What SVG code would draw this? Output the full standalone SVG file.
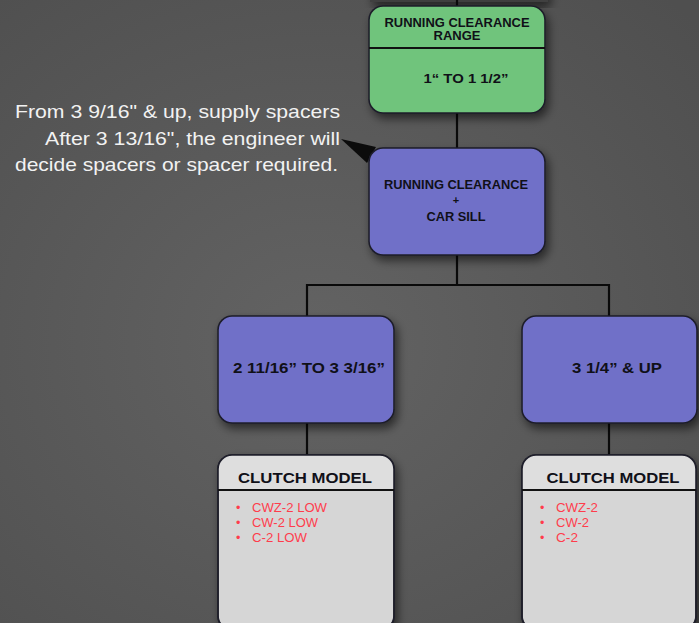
<svg xmlns="http://www.w3.org/2000/svg" width="699" height="623" viewBox="0 0 699 623">
<defs>
<radialGradient id="bg" cx="0.45" cy="0.55" r="0.75">
<stop offset="0" stop-color="#636363"/>
<stop offset="1" stop-color="#4f4f4f"/>
</radialGradient>
<filter id="sh" x="-20%" y="-20%" width="150%" height="160%">
<feDropShadow dx="3" dy="5" stdDeviation="5" flood-color="#000" flood-opacity="0.55"/>
</filter>
<style>
.box{stroke:#1e1e2a;stroke-width:1.6;filter:url(#sh)}
.green{fill:#70c47c}
.blue{fill:#6f6fc8}
.grey{fill:#d6d6d6}
.t{font-family:"Liberation Sans",Arial,sans-serif;font-weight:bold;fill:#101018;text-anchor:middle}
.note{font-family:"Liberation Sans",Arial,sans-serif;font-size:19px;fill:#f2f2f2;text-anchor:end}
.red{font-family:"Liberation Sans",Arial,sans-serif;font-size:12.5px;fill:#ff3c4c}
.line{stroke:#0a0a0a;stroke-width:2.2;fill:none}
</style>
</defs>
<rect width="699" height="623" fill="url(#bg)"/>
<rect x="370" y="-12" width="178" height="14" fill="#404040" filter="url(#sh)"/>
<g id="connectors">
<line class="line" x1="457" y1="0" x2="457" y2="8"/>
<line class="line" x1="457" y1="113" x2="457" y2="148"/>
<polyline class="line" points="457,255 457,285"/>
<polyline class="line" points="307,316 307,285 609,285 609,316"/>
<line class="line" x1="307" y1="423" x2="307" y2="456"/>
<line class="line" x1="609" y1="423" x2="609" y2="456"/>
<polygon points="341,139 376,147 367,163" fill="#0c0c0c"/>
</g>
<g id="note">
<text class="note" x="340" y="118" textLength="325" lengthAdjust="spacingAndGlyphs">From 3 9/16" &amp; up, supply spacers</text>
<text class="note" x="340" y="145" textLength="295" lengthAdjust="spacingAndGlyphs">After 3 13/16", the engineer will</text>
<text class="note" x="338" y="171" textLength="323" lengthAdjust="spacingAndGlyphs">decide spacers or spacer required.</text>
</g>
<g id="range">
<rect class="box green" x="369" y="6" width="176" height="107" rx="14"/>
<line x1="369" y1="48" x2="545" y2="48" stroke="#111" stroke-width="1.8"/>
<text class="t" x="457" y="27" font-size="12" textLength="145" lengthAdjust="spacingAndGlyphs">RUNNING CLEARANCE</text>
<text class="t" x="457" y="40" font-size="12" textLength="47" lengthAdjust="spacingAndGlyphs">RANGE</text>
<text class="t" x="466" y="83" font-size="12.5" textLength="85" lengthAdjust="spacingAndGlyphs">1“ TO 1 1/2”</text>
</g>
<g id="sill">
<rect class="box blue" x="369" y="148" width="176" height="107" rx="14"/>
<text class="t" x="456" y="189" font-size="12" textLength="144" lengthAdjust="spacingAndGlyphs">RUNNING CLEARANCE</text>
<text class="t" x="456" y="204" font-size="11">+</text>
<text class="t" x="456" y="221" font-size="12" textLength="59" lengthAdjust="spacingAndGlyphs">CAR SILL</text>
</g>
<g id="low">
<rect class="box blue" x="218" y="316" width="176" height="107" rx="14"/>
<text class="t" x="309" y="373" font-size="14" textLength="152" lengthAdjust="spacingAndGlyphs">2 11/16” TO 3 3/16”</text>
</g>
<g id="up">
<rect class="box blue" x="522" y="316" width="175" height="107" rx="14"/>
<text class="t" x="617" y="373" font-size="14" textLength="90" lengthAdjust="spacingAndGlyphs">3 1/4” &amp; UP</text>
</g>
<g id="clutch-low">
<rect class="box grey" x="218" y="455" width="176" height="175" rx="14"/>
<path d="M218,490 V469 a14,14 0 0 1 14,-14 H380 a14,14 0 0 1 14,14 V490 Z" fill="#dedede"/>
<rect x="218" y="455" width="176" height="175" rx="14" fill="none" stroke="#1e1e2a" stroke-width="1.6"/>
<line x1="218" y1="490" x2="394" y2="490" stroke="#111" stroke-width="2"/>
<text class="t" x="305" y="483" font-size="15" textLength="134" lengthAdjust="spacingAndGlyphs">CLUTCH MODEL</text>
<text class="red" x="236" y="512">•</text>
<text class="red" x="252" y="512" textLength="75" lengthAdjust="spacingAndGlyphs">CWZ-2 LOW</text>
<text class="red" x="236" y="527">•</text>
<text class="red" x="252" y="527" textLength="66" lengthAdjust="spacingAndGlyphs">CW-2 LOW</text>
<text class="red" x="236" y="542">•</text>
<text class="red" x="252" y="542" textLength="55" lengthAdjust="spacingAndGlyphs">C-2 LOW</text>
</g>
<g id="clutch-up">
<rect class="box grey" x="522" y="455" width="174" height="175" rx="14"/>
<path d="M522,490 V469 a14,14 0 0 1 14,-14 H682 a14,14 0 0 1 14,14 V490 Z" fill="#dedede"/>
<rect x="522" y="455" width="174" height="175" rx="14" fill="none" stroke="#1e1e2a" stroke-width="1.6"/>
<line x1="522" y1="490" x2="696" y2="490" stroke="#111" stroke-width="2"/>
<text class="t" x="613" y="483" font-size="15" textLength="133" lengthAdjust="spacingAndGlyphs">CLUTCH MODEL</text>
<text class="red" x="540" y="512">•</text>
<text class="red" x="556" y="512" textLength="42" lengthAdjust="spacingAndGlyphs">CWZ-2</text>
<text class="red" x="540" y="527">•</text>
<text class="red" x="556" y="527" textLength="33" lengthAdjust="spacingAndGlyphs">CW-2</text>
<text class="red" x="540" y="542">•</text>
<text class="red" x="556" y="542" textLength="22" lengthAdjust="spacingAndGlyphs">C-2</text>
</g>
</svg>
